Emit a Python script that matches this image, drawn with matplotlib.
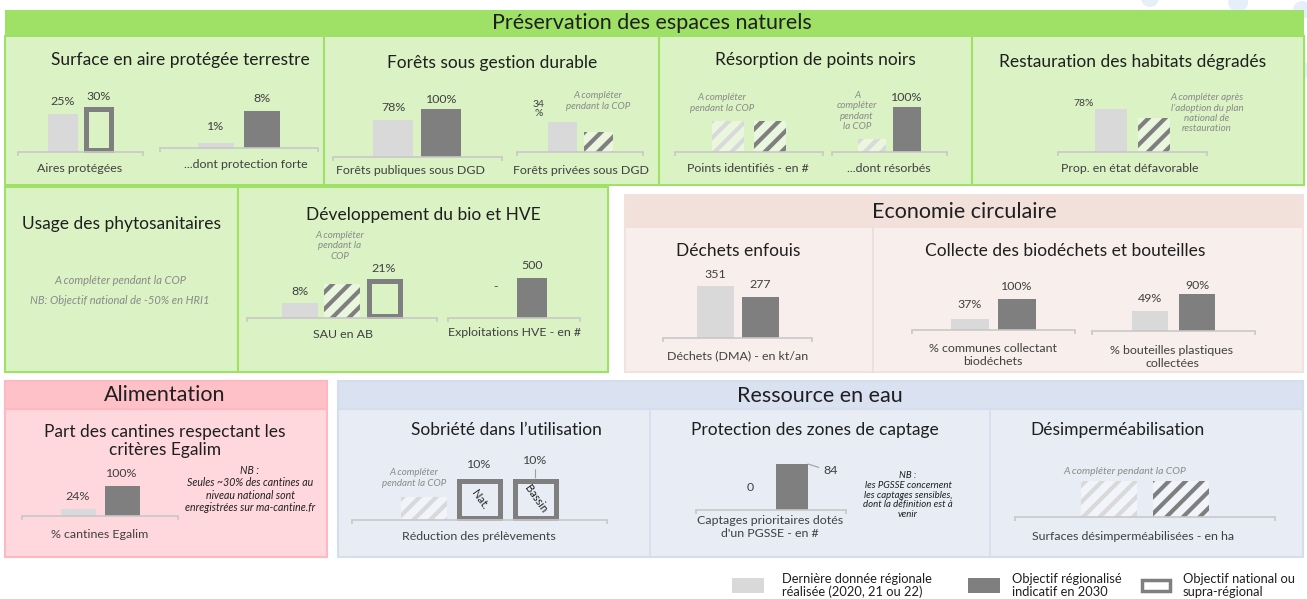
import matplotlib
matplotlib.use('Agg')
import matplotlib.pyplot as plt
from matplotlib.patches import Rectangle, Circle

plt.rcParams['font.family'] = ['Lato', 'DejaVu Sans']
plt.rcParams['hatch.linewidth'] = 3.0

W, H = 1307, 599

# --- data (None = "A compléter", drawn hatched) ---
# kinds: r = dernière donnée régionale, o = objectif régionalisé, n = objectif national
aires_vals, aires_kinds, aires_lbl = [25, 30], ['r', 'n'], ['25%', '30%']
forte_vals, forte_kinds, forte_lbl = [1, 8], ['r', 'o'], ['1%', '8%']
pub_vals, pub_kinds, pub_lbl = [78, 100], ['r', 'o'], ['78%', '100%']
priv_vals, priv_kinds, priv_lbl = [34, None], ['r', 'o'], ['34\n%', '']
points_vals, points_kinds, points_lbl = [None, None], ['r', 'o'], ['', '']
resorb_vals, resorb_kinds, resorb_lbl = [None, 100], ['r', 'o'], ['', '100%']
habitat_vals, habitat_kinds, habitat_lbl = [78, None], ['r', 'o'], ['78%', '']
sau_vals, sau_kinds, sau_lbl = [8, None, 21], ['r', 'o', 'n'], ['8%', '', '21%']
hve_vals, hve_kinds, hve_lbl = [None, 500], ['r', 'o'], ['-', '500']
dechets_vals, dechets_kinds, dechets_lbl = [351, 277], ['r', 'o'], ['351', '277']
communes_vals, communes_kinds, communes_lbl = [37, 100], ['r', 'o'], ['37%', '100%']
bouteilles_vals, bouteilles_kinds, bouteilles_lbl = [49, 90], ['r', 'o'], ['49%', '90%']
cantines_vals, cantines_kinds, cantines_lbl = [24, 100], ['r', 'o'], ['24%', '100%']
prelev_vals, prelev_kinds, prelev_lbl = [None, 10, 10], ['r', 'n', 'n'], ['', '10%', '10%']
prelev_inner = ['', 'Nat.', 'Bassin']
pgsse_vals, pgsse_kinds, pgsse_lbl = [0, 84], ['r', 'o'], ['0', '84']
desimp_vals, desimp_kinds, desimp_lbl = [None, None], ['r', 'o'], ['', '']

LIGHT = '#d9d9d9'
DARK = '#7f7f7f'
TXT = '#1f1f1f'
LBL = '#404040'
NOTE = '#8a8a8a'
FS_SEC = 15.5
FS_TIT = 12.5
FS_LBL = 8.9
FS_VAL = 8.9

fig = plt.figure(figsize=(W / 100, H / 100), dpi=100)
bg = fig.add_axes([0, 0, 1, 1])
bg.set_xlim(0, W)
bg.set_ylim(H, 0)
bg.axis('off')


def box(x, y, w, h, fc, ec='none', lw=1.5):
    bg.add_patch(Rectangle((x, y), w, h, facecolor=fc, edgecolor=ec, linewidth=lw))


def txt(x, y, s, fs=FS_LBL, color=LBL, style='normal', ls=1.15):
    bg.text(x, y, s, fontsize=fs, color=color, style=style, ha='center', va='center',
            linespacing=ls)


def bar_chart(x0, x1, yb, vals, kinds, lbls, w, gap, hmax, ph=None, offs=None,
              lead=(), inner=None, fs=FS_VAL):
    n = len(vals)
    ax = fig.add_axes([x0 / W, 1 - yb / H, (x1 - x0) / W, hmax / H])
    ax.patch.set_visible(False)
    unit = w + gap
    half = (x1 - x0) / 2 / unit
    ax.set_xlim((n - 1) / 2 - half, (n - 1) / 2 + half)
    known = [v for v in vals if v is not None]
    vmax = max(known) if known else 1
    ax.set_ylim(0, vmax)
    bw = w / unit
    for i, (v, k) in enumerate(zip(vals, kinds)):
        if v is None:
            top = ph[i] / hmax * vmax if ph and ph[i] else 0
            if top:
                ax.bar(i, top, bw, color=(1, 1, 1, 0.45), edgecolor=LIGHT if k == 'r' else DARK,
                       hatch='//', linewidth=0)
        elif k == 'n':
            lw_px = 5
            edge = lw_px / 2 / hmax * vmax
            ax.bar(i, v - 2 * edge, bw - lw_px / unit, bottom=edge, fill=False,
                   edgecolor=DARK, linewidth=lw_px * 0.72, clip_on=False)
            top = v
        else:
            ax.bar(i, v, bw, color=LIGHT if k == 'r' else DARK, linewidth=0)
            top = v
        if lbls[i]:
            dx, dy = offs[i] if offs else (0, 3)
            if i in lead:
                ax.annotate(lbls[i], (i + bw / 2 * (1 if dx else 0), top), xytext=(dx, dy),
                            textcoords='offset points', ha='center', va='bottom', fontsize=fs,
                            color=LBL, annotation_clip=False,
                            arrowprops=dict(arrowstyle='-', color='#a0a0a0', lw=0.8,
                                            shrinkA=1, shrinkB=0))
            else:
                ax.annotate(lbls[i], (i, top), xytext=(dx, dy), textcoords='offset points',
                            ha='center', va='bottom', fontsize=fs, color=LBL,
                            annotation_clip=False, linespacing=1.0)
        if inner and inner[i]:
            ax.text(i, v / 2, inner[i], rotation=-55, ha='center', va='center',
                    fontsize=8, color=TXT)
    for s in ['top', 'left', 'right']:
        ax.spines[s].set_visible(False)
    ax.spines['bottom'].set_color('#c8c8c8')
    ax.spines['bottom'].set_linewidth(1.2)
    ax.set_yticks([])
    ax.set_xticks(ax.get_xlim())
    ax.set_xticklabels([])
    ax.tick_params(axis='x', length=3, width=1.2, color='#c8c8c8')
    return ax


# --- decorative dots top right ---
for cx, cy, r in [(1150, -2, 9), (1238, 2, 10), (1302, 10, 9), (1306, 70, 7)]:
    bg.add_patch(Circle((cx, cy), r, facecolor='#e6eef9', edgecolor='none'))

# --- Préservation des espaces naturels ---
GREEN_H = '#9fe066'
GREEN_B = '#daf2c4'
box(5, 10, 1299, 26, GREEN_H)
txt(652, 23, 'Préservation des espaces naturels', fs=FS_SEC, color=TXT)
for x, w in [(5, 319), (324, 335), (659, 313), (972, 332)]:
    box(x, 36, w, 149, GREEN_B, GREEN_H)
for x, w in [(5, 233), (238, 370)]:
    box(x, 187, w, 185, GREEN_B, GREEN_H)

txt(180, 60, 'Surface en aire protégée terrestre', fs=FS_TIT, color=TXT)
txt(492, 63, 'Forêts sous gestion durable', fs=FS_TIT, color=TXT)
txt(815, 60, 'Résorption de points noirs', fs=FS_TIT, color=TXT)
txt(1133, 62, 'Restauration des habitats dégradés', fs=FS_TIT, color=TXT)
txt(122, 224, 'Usage des phytosanitaires', fs=FS_TIT, color=TXT)
txt(423, 215, 'Développement du bio et HVE', fs=FS_TIT, color=TXT)

bar_chart(18, 143, 152, aires_vals, aires_kinds, aires_lbl, 30, 6, 46, offs=[(0, 5), (0, 3)])
bar_chart(160, 318, 148, forte_vals, forte_kinds, forte_lbl, 36, 10, 37, offs=[(0, 8), (0, 5)])
bar_chart(333, 502, 157, pub_vals, pub_kinds, pub_lbl, 40, 8, 48, offs=[(0, 5), (0, 3)])
bar_chart(517, 643, 152, priv_vals, priv_kinds, priv_lbl, 29, 7, 30, ph=[0, 20],
          offs=[(-17, 3), (0, 3)], fs=7.5)
bar_chart(675, 823, 152, points_vals, points_kinds, points_lbl, 32, 10, 31, ph=[31, 31])
bar_chart(832, 947, 152, resorb_vals, resorb_kinds, resorb_lbl, 28, 7, 45, ph=[13, 0])
bar_chart(1058, 1207, 152, habitat_vals, habitat_kinds, habitat_lbl, 32, 11, 43, ph=[0, 34],
          offs=[(-20, 1), (0, 3)], fs=7.5)
bar_chart(247, 437, 318, sau_vals, sau_kinds, sau_lbl, 36, 6, 40, ph=[0, 34, 0],
          offs=[(0, 4), (0, 3), (0, 3)])
bar_chart(448, 580, 318, hve_vals, hve_kinds, hve_lbl, 30, 6, 40, offs=[(0, 19), (0, 5)])

txt(80, 168, 'Aires protégées')
txt(246, 164, '...dont protection forte')
txt(410, 171, 'Forêts publiques sous DGD')
txt(581, 171, 'Forêts privées sous DGD')
txt(748, 169, 'Points identifiés - en #')
txt(889, 169, '...dont résorbés')
txt(1130, 168, 'Prop. en état défavorable')
txt(343, 334, 'SAU en AB')
txt(515, 332, 'Exploitations HVE - en #')

txt(598, 101, 'A compléter\npendant la COP', fs=7, color=NOTE, style='italic')
txt(722, 103, 'A compléter\npendant la COP', fs=7, color=NOTE, style='italic')
txt(857, 111, 'A\ncompléter\npendant\nla COP', fs=7, color=NOTE, style='italic')
txt(1207, 113, 'A compléter après\nl’adoption du plan\nnational de\nrestauration', fs=7,
    color=NOTE, style='italic')
txt(120, 280, 'A compléter pendant la COP', fs=8, color=NOTE, style='italic')
txt(120, 300, 'NB: Objectif national de -50% en HRI1', fs=8, color=NOTE, style='italic')
txt(340, 246, 'A compléter\npendant la\nCOP', fs=7, color=NOTE, style='italic')

# --- Economie circulaire ---
box(625, 195, 678, 177, '#f8efec', '#f0e2de')
box(625, 195, 678, 33, '#f2e0db')
bg.plot([873, 873], [228, 372], color='#ecdcd7', lw=1.2)
txt(964, 212, 'Economie circulaire', fs=FS_SEC, color=TXT)
txt(738, 251, 'Déchets enfouis', fs=FS_TIT, color=TXT)
txt(1065, 251, 'Collecte des biodéchets et bouteilles', fs=FS_TIT, color=TXT)

bar_chart(663, 812, 338, dechets_vals, dechets_kinds, dechets_lbl, 37, 8, 52,
          offs=[(0, 4), (0, 5)])
bar_chart(912, 1075, 330, communes_vals, communes_kinds, communes_lbl, 38, 9, 31,
          offs=[(0, 6), (0, 5)])
bar_chart(1092, 1255, 331, bouteilles_vals, bouteilles_kinds, bouteilles_lbl, 36, 11, 37,
          offs=[(0, 5), (0, 2)])
txt(738, 356, 'Déchets (DMA) - en kt/an')
txt(993, 355, '% communes collectant\nbiodéchets')
txt(1172, 357, '% bouteilles plastiques\ncollectées')

# --- Alimentation ---
box(5, 409, 322, 148, '#ffd8dd', '#ffb8c1')
box(5, 381, 322, 28, '#ffc1c8', '#ffb8c1')
txt(165, 395, 'Alimentation', fs=FS_SEC, color=TXT)
txt(165, 441, 'Part des cantines respectant les\ncritères Egalim', fs=FS_TIT, color=TXT, ls=1.15)
bar_chart(22, 178, 516, cantines_vals, cantines_kinds, cantines_lbl, 35, 9, 30,
          offs=[(0, 5), (0, 5)])
txt(100, 535, '% cantines Egalim')
txt(250, 489, 'NB :\nSeules ~30% des cantines au\nniveau national sont\nenregistrées sur ma-cantine.fr',
    fs=7.6, color=TXT, style='italic', ls=1.15)

# --- Ressource en eau ---
box(338, 409, 965, 148, '#e7ecf5', '#d6ddec')
box(338, 381, 965, 28, '#dae2f1', '#d6ddec')
bg.plot([650, 650], [409, 557], color='#d6ddec', lw=1.2)
bg.plot([990, 990], [409, 557], color='#d6ddec', lw=1.2)
txt(820, 396, 'Ressource en eau', fs=FS_SEC, color=TXT)
txt(506, 430, 'Sobriété dans l’utilisation', fs=FS_TIT, color=TXT)
txt(815, 430, 'Protection des zones de captage', fs=FS_TIT, color=TXT)
txt(1118, 430, 'Désimperméabilisation', fs=FS_TIT, color=TXT)

bar_chart(352, 607, 520, prelev_vals, prelev_kinds, prelev_lbl, 46, 10, 42, ph=[23, 0, 0],
          offs=[(0, 3), (0, 6), (0, 9)], lead=(2,), inner=prelev_inner)
bar_chart(696, 846, 510, pgsse_vals, pgsse_kinds, pgsse_lbl, 32, 10, 46,
          offs=[(0, 12), (16, -9)], lead=(1,))
bar_chart(1015, 1275, 517, desimp_vals, desimp_kinds, desimp_lbl, 56, 16, 36, ph=[36, 36])

txt(479, 536, 'Réduction des prélèvements')
txt(770, 527, 'Captages prioritaires dotés\nd\'un PGSSE - en #')
txt(1133, 536, 'Surfaces désimperméabilisées - en ha')
txt(414, 478, 'A compléter\npendant la COP', fs=7, color=NOTE, style='italic')
txt(1125, 471, 'A compléter pendant la COP', fs=7.5, color=NOTE, style='italic')
txt(908, 495, 'NB :\nles PGSSE concernent\nles captages sensibles,\ndont la définition est à\nvenir',
    fs=6.9, color=TXT, style='italic', ls=1.1)

# --- legend ---
box(732, 578, 32, 15, LIGHT)
box(968, 578, 32, 15, DARK)
bg.add_patch(Rectangle((1142, 580), 28, 11, facecolor='none', edgecolor=DARK, linewidth=2.5))
for x, s in [(782, 'Dernière donnée régionale\nréalisée (2020, 21 ou 22)'),
             (1012, 'Objectif régionalisé\nindicatif en 2030'),
             (1183, 'Objectif national ou\nsupra-régional')]:
    bg.text(x, 573, s, fontsize=9.3, color=TXT, ha='left', va='top', linespacing=1.05)

fig.savefig('out.png', dpi=100)
